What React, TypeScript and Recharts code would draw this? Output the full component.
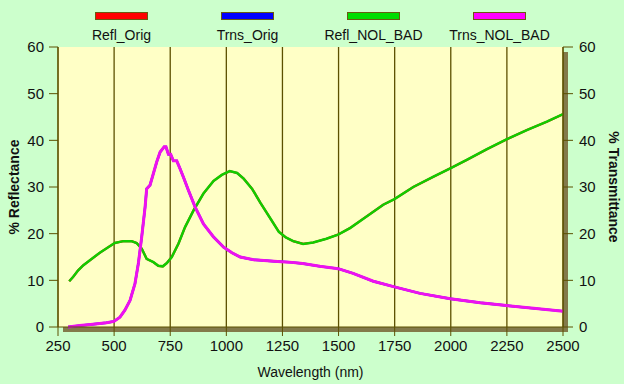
import { LineChart, Line, XAxis, YAxis, CartesianGrid } from 'recharts';

// wavelengths (nm) and % reflectance
const reflWl = [300, 317, 339, 362, 392, 436, 474, 503, 541, 578, 600, 623, 645, 675, 697, 717, 735, 757, 787, 816, 854, 898, 943, 980, 1015, 1048, 1077, 1115, 1152, 1197, 1234, 1265, 1298, 1342, 1387, 1446, 1498, 1551, 1625, 1699, 1749, 1833, 1923, 1998, 2071, 2161, 2248, 2339, 2428, 2500];
const reflVals = [9.8, 10.7, 12.1, 13.2, 14.3, 15.9, 17.1, 18.0, 18.4, 18.4, 18.0, 16.8, 14.6, 13.9, 13.1, 13.0, 13.7, 15.0, 17.9, 21.4, 25.0, 28.6, 31.3, 32.6, 33.4, 33.0, 31.8, 29.6, 26.6, 23.2, 20.4, 19.2, 18.4, 17.8, 18.1, 18.9, 19.8, 21.2, 23.7, 26.2, 27.4, 30.0, 32.2, 34.0, 35.8, 38.1, 40.2, 42.2, 44.0, 45.6];

// wavelengths (nm) and % transmittance
const trnsWl = [295, 347, 406, 466, 499, 526, 548, 571, 593, 608, 623, 638, 645, 660, 675, 690, 705, 723, 731, 742, 752, 764, 779, 794, 809, 831, 861, 898, 943, 988, 1025, 1062, 1122, 1212, 1280, 1340, 1417, 1498, 1565, 1655, 1749, 1863, 1998, 2131, 2248, 2369, 2500];
const trnsVals = [0.0, 0.3, 0.6, 0.9, 1.2, 2.1, 3.6, 5.7, 9.3, 13.6, 19.3, 25.7, 29.6, 30.4, 32.9, 35.4, 37.5, 38.6, 38.6, 37.0, 37.0, 35.6, 35.6, 33.9, 32.1, 29.3, 25.7, 22.1, 19.3, 17.1, 15.9, 15.0, 14.4, 14.1, 13.9, 13.6, 13.0, 12.5, 11.5, 9.8, 8.6, 7.2, 6.05, 5.2, 4.6, 4.0, 3.4];

const xTicks = [250, 500, 750, 1000, 1250, 1500, 1750, 2000, 2250, 2500];
const yTicks = [0, 10, 20, 30, 40, 50, 60];

const seriesNames = ['Refl_Orig', 'Trns_Orig', 'Refl_NOL_BAD', 'Trns_NOL_BAD'];
const seriesColors = ['#ff0000', '#0000ff', '#00dd00', '#ff00ff'];

const W = 624;
const H = 384;
const margin = { top: 47, right: 0, bottom: 0, left: 0 };
const leftW = 58;
const rightW = 61;
const bottomH = 57;

const font = '"Liberation Sans", Arial, sans-serif';
const olive = '#5c5000';

export default function App() {
  const reflData = reflWl.map((x, i) => ({ x, y: reflVals[i] }));
  const trnsData = trnsWl.map((x, i) => ({ x, y: trnsVals[i] }));

  const plotW = W - leftW - rightW;
  const plotH = H - margin.top - bottomH;

  const tick = { fill: '#111', fontSize: 15, fontFamily: font };

  return (
    <div style={{ position: 'absolute', left: 0, top: 0, width: W, height: H, background: '#ccffcc', fontFamily: font }}>
      {/* plot shadow */}
      <div style={{ position: 'absolute', left: leftW + 5, top: margin.top + 5, width: plotW, height: plotH, background: '#837a4a' }} />
      {/* legend */}
      {seriesNames.map((name, i) => (
        <div key={name} style={{ position: 'absolute', left: 95 + i * 126, top: 0, width: 53 }}>
          <div style={{ position: 'absolute', left: 0, top: 12, width: 51, height: 6, background: seriesColors[i], border: '1px solid #6a5a10' }} />
          <div style={{ position: 'absolute', left: -40, top: 27, width: 133, textAlign: 'center', fontSize: 14, color: '#111', whiteSpace: 'nowrap' }}>{name}</div>
        </div>
      ))}
      <div style={{ position: 'absolute', left: 0, top: 0 }}>
        <LineChart width={W} height={H} data={reflData} margin={margin}>
          <CartesianGrid fill="#ffffc6" stroke={olive} strokeWidth={1.3} horizontalValues={yTicks} verticalValues={xTicks} />
          <XAxis
            dataKey="x"
            type="number"
            domain={[250, 2500]}
            ticks={xTicks}
            interval={0}
            height={bottomH}
            tickSize={9}
            tickMargin={4}
            stroke={olive}
            tick={tick}
            label={{ value: 'Wavelength (nm)', position: 'insideBottom', offset: 7, style: { fill: '#111', fontSize: 14, fontFamily: font } }}
          />
          <YAxis
            yAxisId="left"
            domain={[0, 60]}
            ticks={yTicks}
            interval={0}
            width={leftW}
            tickSize={9}
            tickMargin={5}
            stroke={olive}
            tick={tick}
            label={{ value: '% Reflectance', angle: -90, position: 'insideLeft', offset: 14, style: { fill: '#111', fontSize: 14, fontWeight: 'bold', fontFamily: font, textAnchor: 'middle' } }}
          />
          <YAxis
            yAxisId="right"
            orientation="right"
            domain={[0, 60]}
            ticks={yTicks}
            interval={0}
            width={rightW}
            tickSize={10}
            tickMargin={6}
            stroke={olive}
            tick={tick}
            label={{ value: '% Transmittance', angle: 90, position: 'insideRight', offset: 10, style: { fill: '#111', fontSize: 14, fontWeight: 'bold', fontFamily: font, textAnchor: 'middle' } }}
          />
          <Line yAxisId="left" data={reflData} dataKey="y" name={seriesNames[0]} stroke={seriesColors[0]} strokeWidth={2.2} dot={false} isAnimationActive={false} />
          <Line yAxisId="right" data={trnsData} dataKey="y" name={seriesNames[1]} stroke={seriesColors[1]} strokeWidth={2.4} dot={false} isAnimationActive={false} />
          <Line yAxisId="left" data={reflData} dataKey="y" name={seriesNames[2]} stroke="#11cc00" strokeWidth={2.5} dot={false} isAnimationActive={false} />
          <Line yAxisId="right" data={trnsData} dataKey="y" name={seriesNames[3]} stroke="#ee11ee" strokeWidth={3} dot={false} isAnimationActive={false} />
        </LineChart>
      </div>
    </div>
  );
}
